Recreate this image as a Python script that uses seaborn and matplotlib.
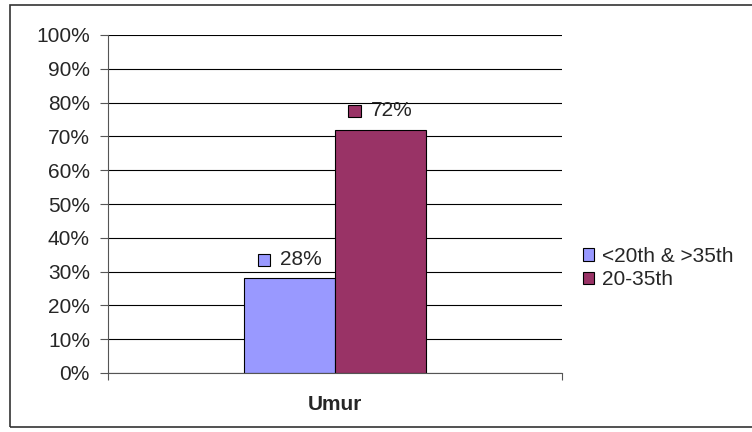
import matplotlib
matplotlib.use("Agg")
import matplotlib.pyplot as plt
import seaborn as sns
import pandas as pd
from matplotlib.patches import Rectangle
from matplotlib.offsetbox import AnnotationBbox, DrawingArea, TextArea, HPacker

# data
group = "Umur"
categories = ["<20th & >35th", "20-35th"]
values = [28, 72]
colors = ["#9999FF", "#993366"]

df = pd.DataFrame({"grp": [group] * len(categories), "cat": categories, "val": values})

sns.set_style("white")
plt.rcParams["font.family"] = ["Liberation Sans", "DejaVu Sans"]
plt.rcParams["font.size"] = 15

fig = plt.figure(figsize=(7.52, 4.32), dpi=100)
ax = fig.add_axes([108 / 752, 1 - 373 / 432, 454 / 752, 338 / 432])

sns.barplot(data=df, x="grp", y="val", hue="cat", palette=colors, width=0.4,
            edgecolor="black", linewidth=0.8, ax=ax, legend=True, saturation=1)

ax.set_xlim(-0.5, 0.5)
ax.set_ylim(0, 100)
ax.set_yticks(range(0, 101, 10))
ax.set_yticklabels([f"{v}%" for v in range(0, 101, 10)])
ax.yaxis.grid(True, color="black", linewidth=0.8)
ax.set_axisbelow(True)
ax.tick_params(axis="y", direction="out", length=6, width=0.8, color="#555555", pad=7, left=True)
ax.tick_params(axis="x", which="major", length=0, pad=16)
ax.set_xticks([-0.5, 0.5], minor=True)
ax.tick_params(axis="x", which="minor", direction="out", length=5, width=0.8, color="#555555", bottom=True)
for lab in ax.get_xticklabels():
    lab.set_fontweight("bold")
ax.set_xlabel("")
ax.set_ylabel("")
for s in ["top", "right"]:
    ax.spines[s].set_visible(False)
for s in ["left", "bottom"]:
    ax.spines[s].set_color("#555555")
    ax.spines[s].set_linewidth(0.8)

# value labels with a small colour key in front
for bar, val, col in zip(ax.patches, values, colors):
    da = DrawingArea(10, 10, 0, 0)
    da.add_artist(Rectangle((0, 0), 9, 9, facecolor=col, edgecolor="black", linewidth=0.8))
    ta = TextArea(f"{val}%", textprops=dict(fontsize=15))
    box = HPacker(children=[da, ta], align="center", pad=0, sep=6)
    ab = AnnotationBbox(box, (bar.get_x() + bar.get_width() / 2, bar.get_height()),
                        xybox=(0, 7), boxcoords="offset points", box_alignment=(0.5, 0),
                        frameon=False)
    ax.add_artist(ab)

leg = ax.legend(loc="upper left", bbox_to_anchor=(583 / 752, 1 - 247 / 432),
                bbox_transform=fig.transFigure, frameon=False, fontsize=15,
                handlelength=0.55, handleheight=0.55, handletextpad=0.35,
                labelspacing=0.2, borderpad=0, borderaxespad=0)
for h in leg.legend_handles:
    h.set_edgecolor("black")
    h.set_linewidth(0.8)

# outer chart border
fig.patches.append(Rectangle((10 / 752, 1 - 427 / 432), 1.0, 422 / 432, transform=fig.transFigure,
                             fill=False, edgecolor="#333333", linewidth=1.2, clip_on=False))

fig.savefig("out.png", dpi=100)
